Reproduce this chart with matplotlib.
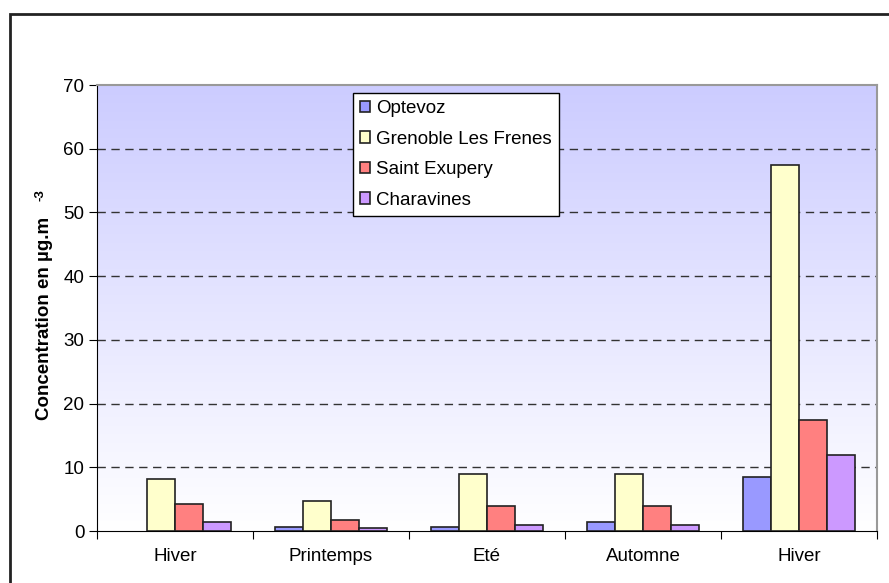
import numpy as np
import matplotlib
matplotlib.use("Agg")
import matplotlib.pyplot as plt
from matplotlib.patches import Rectangle

plt.rcParams['font.family'] = ['Liberation Sans', 'DejaVu Sans']

saisons = ["Hiver", "Printemps", "Eté", "Automne", "Hiver"]
stations = ["Optevoz", "Grenoble Les Frenes", "Saint Exupery", "Charavines"]
optevoz = [np.nan, 0.7, 0.7, 1.4, 8.4]   # pas de mesure le premier hiver
grenoble = [8.1, 4.7, 9.0, 9.0, 57.5]
st_exupery = [4.2, 1.7, 4.0, 4.0, 17.5]
charavines = [1.4, 0.5, 1.0, 1.0, 12.0]
couleurs = ["#9999FF", "#FFFFCC", "#FF8080", "#CC99FF"]

W, H = 889, 583
FS = 13.5
fig = plt.figure(figsize=(W / 100, H / 100), dpi=100)
ax = fig.add_axes([97 / W, 1 - 531 / H, (877 - 97) / W, (531 - 85) / H])

# fond degrade lavande -> blanc
grad = np.linspace(1, 0, 256).reshape(-1, 1)
top = np.array([204, 204, 255]) / 255
img = top * grad[..., None] + np.array([1, 1, 1]) * (1 - grad[..., None])
ax.imshow(img, extent=[-0.5, 4.5, 0, 70], aspect='auto', zorder=0)

x = np.arange(len(saisons))
bw = 0.18
series = [optevoz, grenoble, st_exupery, charavines]
for i, (vals, col, nom) in enumerate(zip(series, couleurs, stations)):
    ax.bar(x + (i - 1.5) * bw, vals, bw, color=col, edgecolor='#222222',
           linewidth=1.2, label=nom, zorder=3)

ax.set_xlim(-0.5, 4.5)
ax.set_ylim(0, 70)
ax.set_yticks(range(0, 71, 10))
for y in range(10, 70, 10):
    ax.axhline(y, color='#333333', linestyle=(0, (6, 4)), linewidth=1, zorder=1)

ax.set_xticks(np.arange(-0.5, 5, 1))
ax.set_xticklabels([])
ax.set_xticks(x, minor=True)
ax.set_xticklabels(saisons, minor=True, fontsize=FS)
ax.tick_params(axis='x', which='minor', length=0, pad=12)
ax.tick_params(axis='x', which='major', length=6, direction='out')
ax.tick_params(axis='y', length=6, direction='out', labelsize=FS, pad=3)

for s in ['top', 'right']:
    ax.spines[s].set_color('#999999')
    ax.spines[s].set_linewidth(1.5)
ax.spines['left'].set_color('black')
ax.spines['bottom'].set_color('black')

leg = ax.legend(loc='upper left', bbox_to_anchor=(0.328, 0.982), fontsize=FS,
                handlelength=0.55, handleheight=0.55, handletextpad=0.3,
                labelspacing=0.72, borderpad=0.38, fancybox=False,
                framealpha=1, edgecolor='black', borderaxespad=0)
leg.get_frame().set_linewidth(1)
leg.set_zorder(5)

fig.text(45 / W, 1 - 318 / H, "Concentration en µg.m", rotation=90,
         ha='center', va='center', fontsize=FS, fontweight='bold')
fig.text(40 / W, 1 - 195 / H, "-3", rotation=90, ha='center', va='center',
         fontsize=9.5, fontweight='bold')

# cadre exterieur
fig.patches.append(Rectangle((10 / W, -0.1), 1.1, 1 - 14 / H + 0.1,
                             transform=fig.transFigure, fill=False,
                             edgecolor='#222222', linewidth=2))

fig.savefig("out.png", dpi=100)
